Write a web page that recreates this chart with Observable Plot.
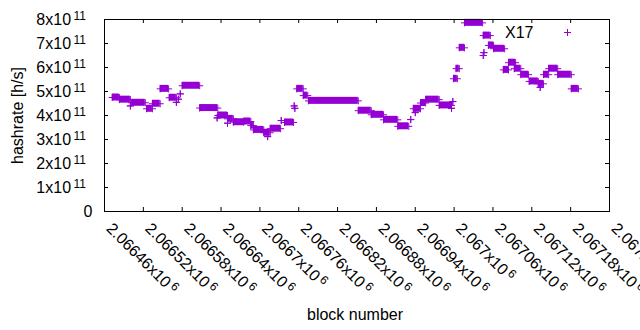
<!DOCTYPE html>
<html><head><meta charset="utf-8">
<script src="https://cdn.jsdelivr.net/npm/d3@7"></script>
<script src="https://cdn.jsdelivr.net/npm/@observablehq/plot@0.6"></script>
<style>
html,body{margin:0;padding:0;background:#fff;}
#chart{width:640px;height:330px;overflow:hidden;}
</style></head><body><div id="chart"></div>
<script>
// ---- data ----
const seriesName = "X17";
// runs of consecutive blocks sharing the same hashrate estimate (start block, end block, hashrate h/s)
const runStart = [2066472,2066483,2066500,2066502,2066525,2066534,2066546,2066560,2066571,2066574,2066577,2066580,2066607,2066634,2066635,2066650,2066650,2066659,2066675,2066686,2066690,2066706,2066712,2066716,2066733,2066738,2066753,2066754,2066757,2066767,2066775,2066852,2066872,2066891,2066913,2066933,2066937,2066940,2066948,2066956,2066977,2066996,2066998,2066999,2067003,2067008,2067016,2067045,2067046,2067045,2067053,2067061,2067076,2067084,2067093,2067103,2067116,2067130,2067133,2067138,2067146,2067160,2067181];
const runEnd   = [2066483,2066500,2066500,2066523,2066534,2066546,2066559,2066571,2066571,2066574,2066577,2066607,2066635,2066634,2066650,2066650,2066659,2066675,2066686,2066690,2066706,2066716,2066712,2066732,2066733,2066752,2066753,2066754,2066767,2066774,2066852,2066872,2066891,2066913,2066930,2066933,2066948,2066940,2066956,2066977,2066996,2066996,2066998,2067005,2067008,2067016,2067044,2067045,2067046,2067056,2067061,2067078,2067084,2067095,2067103,2067115,2067130,2067138,2067133,2067146,2067160,2067181,2067192];
const runHashrate = [4.75e11,4.66e11,4.40e11,4.53e11,4.28e11,4.49e11,5.11e11,4.74e11,4.55e11,4.68e11,4.90e11,5.24e11,4.31e11,3.90e11,4.00e11,3.68e11,3.86e11,3.72e11,3.75e11,3.58e11,3.40e11,3.28e11,3.12e11,3.45e11,3.79e11,3.71e11,4.40e11,4.30e11,5.11e11,4.83e11,4.61e11,4.20e11,4.03e11,3.82e11,3.55e11,3.83e11,4.28e11,4.12e11,4.52e11,4.66e11,4.42e11,4.30e11,4.58e11,5.53e11,5.95e11,6.82e11,7.86e11,6.50e11,6.62e11,7.33e11,6.92e11,6.78e11,5.90e11,6.20e11,5.95e11,5.70e11,5.42e11,5.32e11,5.17e11,5.70e11,5.95e11,5.70e11,5.11e11];

const xTicks = [2066460,2066520,2066580,2066640,2066700,2066760,2066820,2066880,2066940,2067000,2067060,2067120,2067180,2067240];
const xTickMantissa = ["2.06646","2.06652","2.06658","2.06664","2.0667","2.06676","2.06682","2.06688","2.06694","2.067","2.06706","2.06712","2.06718","2.06724"];
const xTickExponent = "6";
const yTicks = [0,1e11,2e11,3e11,4e11,5e11,6e11,7e11,8e11];
const yTickMantissa = ["0","1","2","3","4","5","6","7","8"];
const yTickExponent = "11";
const xTitle = "block number";
const yTitle = "hashrate [h/s]";

// ---- build ----
const color = "#9400d3";
const FONT = "'Liberation Sans', Arial, sans-serif";
const FS = 16;
const runs = runStart.map((s, i) => ({start: s, end: runEnd[i], v: runHashrate[i]}));
const ends = runs.flatMap(r => [{b: r.start, v: r.v}, {b: r.end, v: r.v}]);
const xDom = d3.extent(xTicks);
const yDom = [0, d3.max(yTicks)];
const xLab = xTicks.map((t, i) => ({t, y: 0, label: xTickMantissa[i] + "x10 " + xTickExponent}));
const yLab = yTicks.map((t, i) => ({t, x: xDom[0], label: t === 0 ? yTickMantissa[i] : yTickMantissa[i] + "x10 " + yTickExponent}));

const plot = Plot.plot({
  width: 640, height: 330,
  marginLeft: 104, marginRight: 31, marginTop: 19, marginBottom: 119,
  style: {fontFamily: FONT, fontSize: FS + "px", background: "white", color: "black"},
  x: {domain: xDom, axis: null},
  y: {domain: yDom, axis: null},
  marks: [
    Plot.rect(runs, {x1: "start", x2: "end", y1: "v", y2: "v", fill: color, insetTop: -3.5, insetBottom: -3.5}),
    Plot.dot(ends, {x: "b", y: "v", symbol: "plus", r: 2.4, stroke: color, strokeWidth: 1}),
    Plot.frame({stroke: "black"}),
    // inward ticks, mirrored on all sides
    Plot.ruleX(xTicks, {x: d => d, y1: yDom[0], y2: yDom[0], insetTop: -4, stroke: "black"}),
    Plot.ruleX(xTicks, {x: d => d, y1: yDom[1], y2: yDom[1], insetBottom: -4, stroke: "black"}),
    Plot.ruleY(yTicks, {y: d => d, x1: xDom[0], x2: xDom[0], insetRight: -4, stroke: "black"}),
    Plot.ruleY(yTicks, {y: d => d, x1: xDom[1], x2: xDom[1], insetLeft: -4, stroke: "black"}),
    // tick labels
    Plot.text(xLab, {x: "t", y: "y", text: "label", rotate: 45, textAnchor: "start", lineAnchor: "bottom", dx: 1, dy: 18, fontSize: FS, fill: "black"}),
    Plot.text(yLab.filter(d => d.t === 0), {x: "x", y: "t", text: "label", textAnchor: "end", dx: -12, fontSize: FS, fill: "black"}),
    Plot.text(yLab.filter(d => d.t !== 0), {x: "x", y: "t", text: "label", textAnchor: "end", dx: -18.5, fontSize: FS, fill: "black"}),
    // axis titles
    Plot.text([xTitle], {frameAnchor: "bottom", textAnchor: "middle", lineAnchor: "bottom", dx: -2, dy: 108, fontSize: FS, fill: "black"}),
    Plot.text([yTitle], {frameAnchor: "left", textAnchor: "middle", rotate: -90, lineAnchor: "bottom", dx: -82, dy: 0, fontSize: FS, fill: "black"}),
    // key
    Plot.text([seriesName], {frameAnchor: "top-right", textAnchor: "end", lineAnchor: "bottom", dx: -76, dy: 18, fontSize: FS, fill: "black"}),
    Plot.dot([seriesName], {frameAnchor: "top-right", dx: -42, dy: 13, symbol: "plus", r: 2.4, stroke: color, strokeWidth: 1})
  ]
});

// superscript exponents in tick labels (gnuplot enhanced text style)
d3.select(plot).selectAll("text").each(function () {
  const m = this.textContent.match(/^(.*x10) (\d+)$/);
  if (!m) return;
  const sel = d3.select(this);
  sel.text("");
  sel.append("tspan").text(m[1]);
  sel.append("tspan").attr("dx", 2.5).attr("dy", -5).attr("font-size", 12).text(m[2]);
});

document.getElementById("chart").appendChild(plot);
</script></body></html>
